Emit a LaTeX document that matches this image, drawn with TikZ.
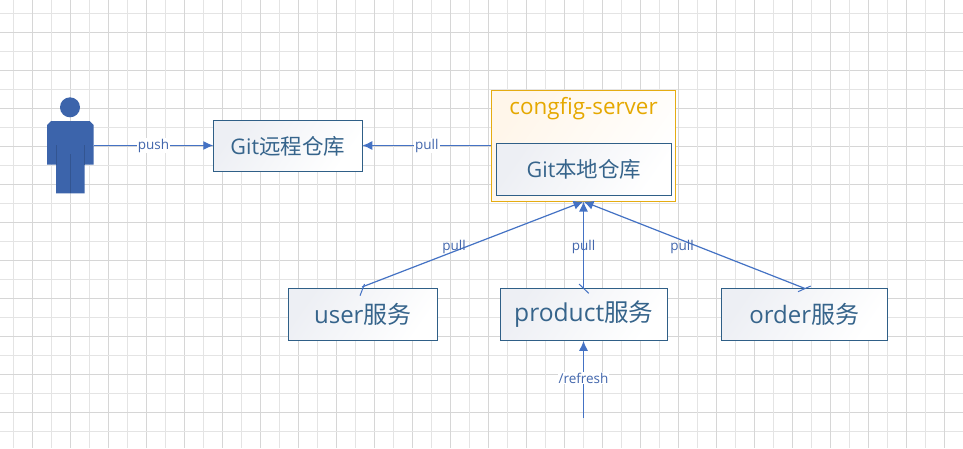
\documentclass[tikz,border=0pt]{standalone}
\usepackage{fontspec}
\setmainfont{Open Sans}
\newfontfamily\cjk{Noto Sans CJK SC}
\usetikzlibrary{arrows.meta}
\definecolor{boxline}{HTML}{2F5F87}
\definecolor{boxtext}{HTML}{36648B}
\definecolor{conn}{HTML}{4472C4}
\definecolor{person}{HTML}{3C64AB}
\definecolor{labeltext}{HTML}{4266AC}
\definecolor{gold}{HTML}{E5AC12}
\definecolor{goldtext}{HTML}{E5A800}
\definecolor{gridA}{HTML}{D6D6D6}
\definecolor{gridB}{HTML}{E4E4E4}
\definecolor{shadeblue}{HTML}{EDEFF4}
\definecolor{shadebluemid}{HTML}{FBFCFD}
\definecolor{shadegold}{HTML}{FFF6EA}
\definecolor{shadegoldmid}{HTML}{FFFEFC}
\tikzset{
  x=1pt,y=-1pt,
  svcbox/.style={draw=boxline,line width=1.1pt,inner sep=0pt,outer sep=0pt,
    left color=shadeblue,middle color=shadebluemid,right color=white,shading angle=55,
    text=boxtext,anchor=north west},
  srvbox/.style={draw=gold,line width=1.1pt,inner sep=0pt,outer sep=0pt,
    left color=shadegold,middle color=shadegoldmid,right color=white,shading angle=55,anchor=north west},
  bigtext/.style={font=\fontsize{24}{28}\selectfont},
  midtext/.style={font=\fontsize{21.5}{26}\selectfont},
  conline/.style={draw=conn,line width=1.2pt},
  arrowline/.style={conline,-{Latex[length=10pt,width=9pt]}},
  linklabel/.style={font=\fontsize{13.5}{16}\selectfont,text=labeltext,inner sep=1pt},
  tick/.style={conline,line width=1pt},
}
\newcommand{\cn}[1]{{\cjk #1}}
\newcommand{\up}[1]{\raisebox{1.5pt}{#1}}
\newcommand{\upb}[1]{\raisebox{2.5pt}{#1}}
\begin{document}
\begin{tikzpicture}
\useasboundingbox (0,0) rectangle (963,448);
\fill[white] (0,0) rectangle (963,448);
% grid
\foreach \k in {0,...,50}{
  \pgfmathsetmacro{\p}{13.5+19*\k}
  \pgfmathtruncatemacro{\m}{mod(\k,2)}
  \ifnum\m=0 \def\gc{gridB}\else\def\gc{gridA}\fi
  \draw[\gc,line width=1pt] (\p,0) -- (\p,448);
  \ifdim\p pt<448pt \draw[\gc,line width=1pt] (0,\p) -- (963,\p); \fi
}
% person
\fill[person] (70,107.3) circle (10);
\fill[person] (51,121) -- (89.7,121) -- (93.7,125) -- (93.7,164.7) -- (84.7,164.7) -- (84.7,193.3) -- (56,193.3) -- (56,164.7) -- (47,164.7) -- (47,125) -- cycle;
\draw[person!85!black,line width=.5pt] (56,145) -- (56,165) (84.7,145) -- (84.7,165) (70,154) -- (70,193.3);
\coordinate (personR) at (93.7,145.5);
% boxes
\node[srvbox,minimum width=184pt,minimum height=111pt] (server) at (491.3,90.3) {};
\node[text=goldtext,font=\fontsize{22.4}{26}\selectfont,inner sep=0pt] (servertitle) at (583.5,109) {congfig-server};
\node[svcbox,midtext,minimum width=149pt,minimum height=50.5pt] (remote) at (213.3,120.7) {\up{Git\cn{远程仓库}}};
\node[svcbox,midtext,minimum width=175.4pt,minimum height=52pt] (local) at (496.3,143.3) {\up{Git\cn{本地仓库}}};
\node[svcbox,bigtext,minimum width=149pt,minimum height=51.6pt] (user) at (288.3,288.7) {\upb{user\cn{服务}}};
\node[svcbox,font=\fontsize{24.6}{28}\selectfont,minimum width=167pt,minimum height=51.6pt] (product) at (500.3,288.7) {\upb{product\cn{服务}}};
\node[svcbox,bigtext,minimum width=166pt,minimum height=51.6pt] (order) at (721.3,288.7) {\upb{order\cn{服务}}};
% connectors
\coordinate (target) at (583.5,201.5);
\coordinate (serverL) at (491.3,145.5);
\coordinate (remoteR) at (362.3,145.5);
\coordinate (remoteL) at (213.3,145.5);
\coordinate (refreshStart) at (583.5,418);
\coordinate (productB) at (583.5,340.8);
\draw[arrowline] (personR) -- node[fill=white,linklabel] (pushlabel) {push} (remoteL);
\draw[arrowline] (serverL) -- node[fill=white,linklabel,pos=.5] (pulllabel) {pull} (remoteR);
\draw[arrowline] (refreshStart) -- node[fill=white,linklabel,pos=.518] (refreshlabel) {/refresh} (productB);
\coordinate (userTop) at (362,287);
\coordinate (prodTop) at (583.5,288);
\coordinate (orderTop) at (805,288.5);
\draw[arrowline] (userTop) -- (target);
\draw[arrowline] (prodTop) -- (target);
\draw[arrowline] (orderTop) -- (target);
\draw[tick] (360,295.7) -- (364.5,284);
\draw[tick] (579,284) -- (588.7,293.3);
\draw[tick] (810.7,286) -- (798,291.7);
\node[linklabel] (pullA) at (454,246.5) {pull};
\node[linklabel] (pullB) at (583.5,246.5) {pull};
\node[linklabel] (pullC) at (682,246.5) {pull};
\end{tikzpicture}
\end{document}
